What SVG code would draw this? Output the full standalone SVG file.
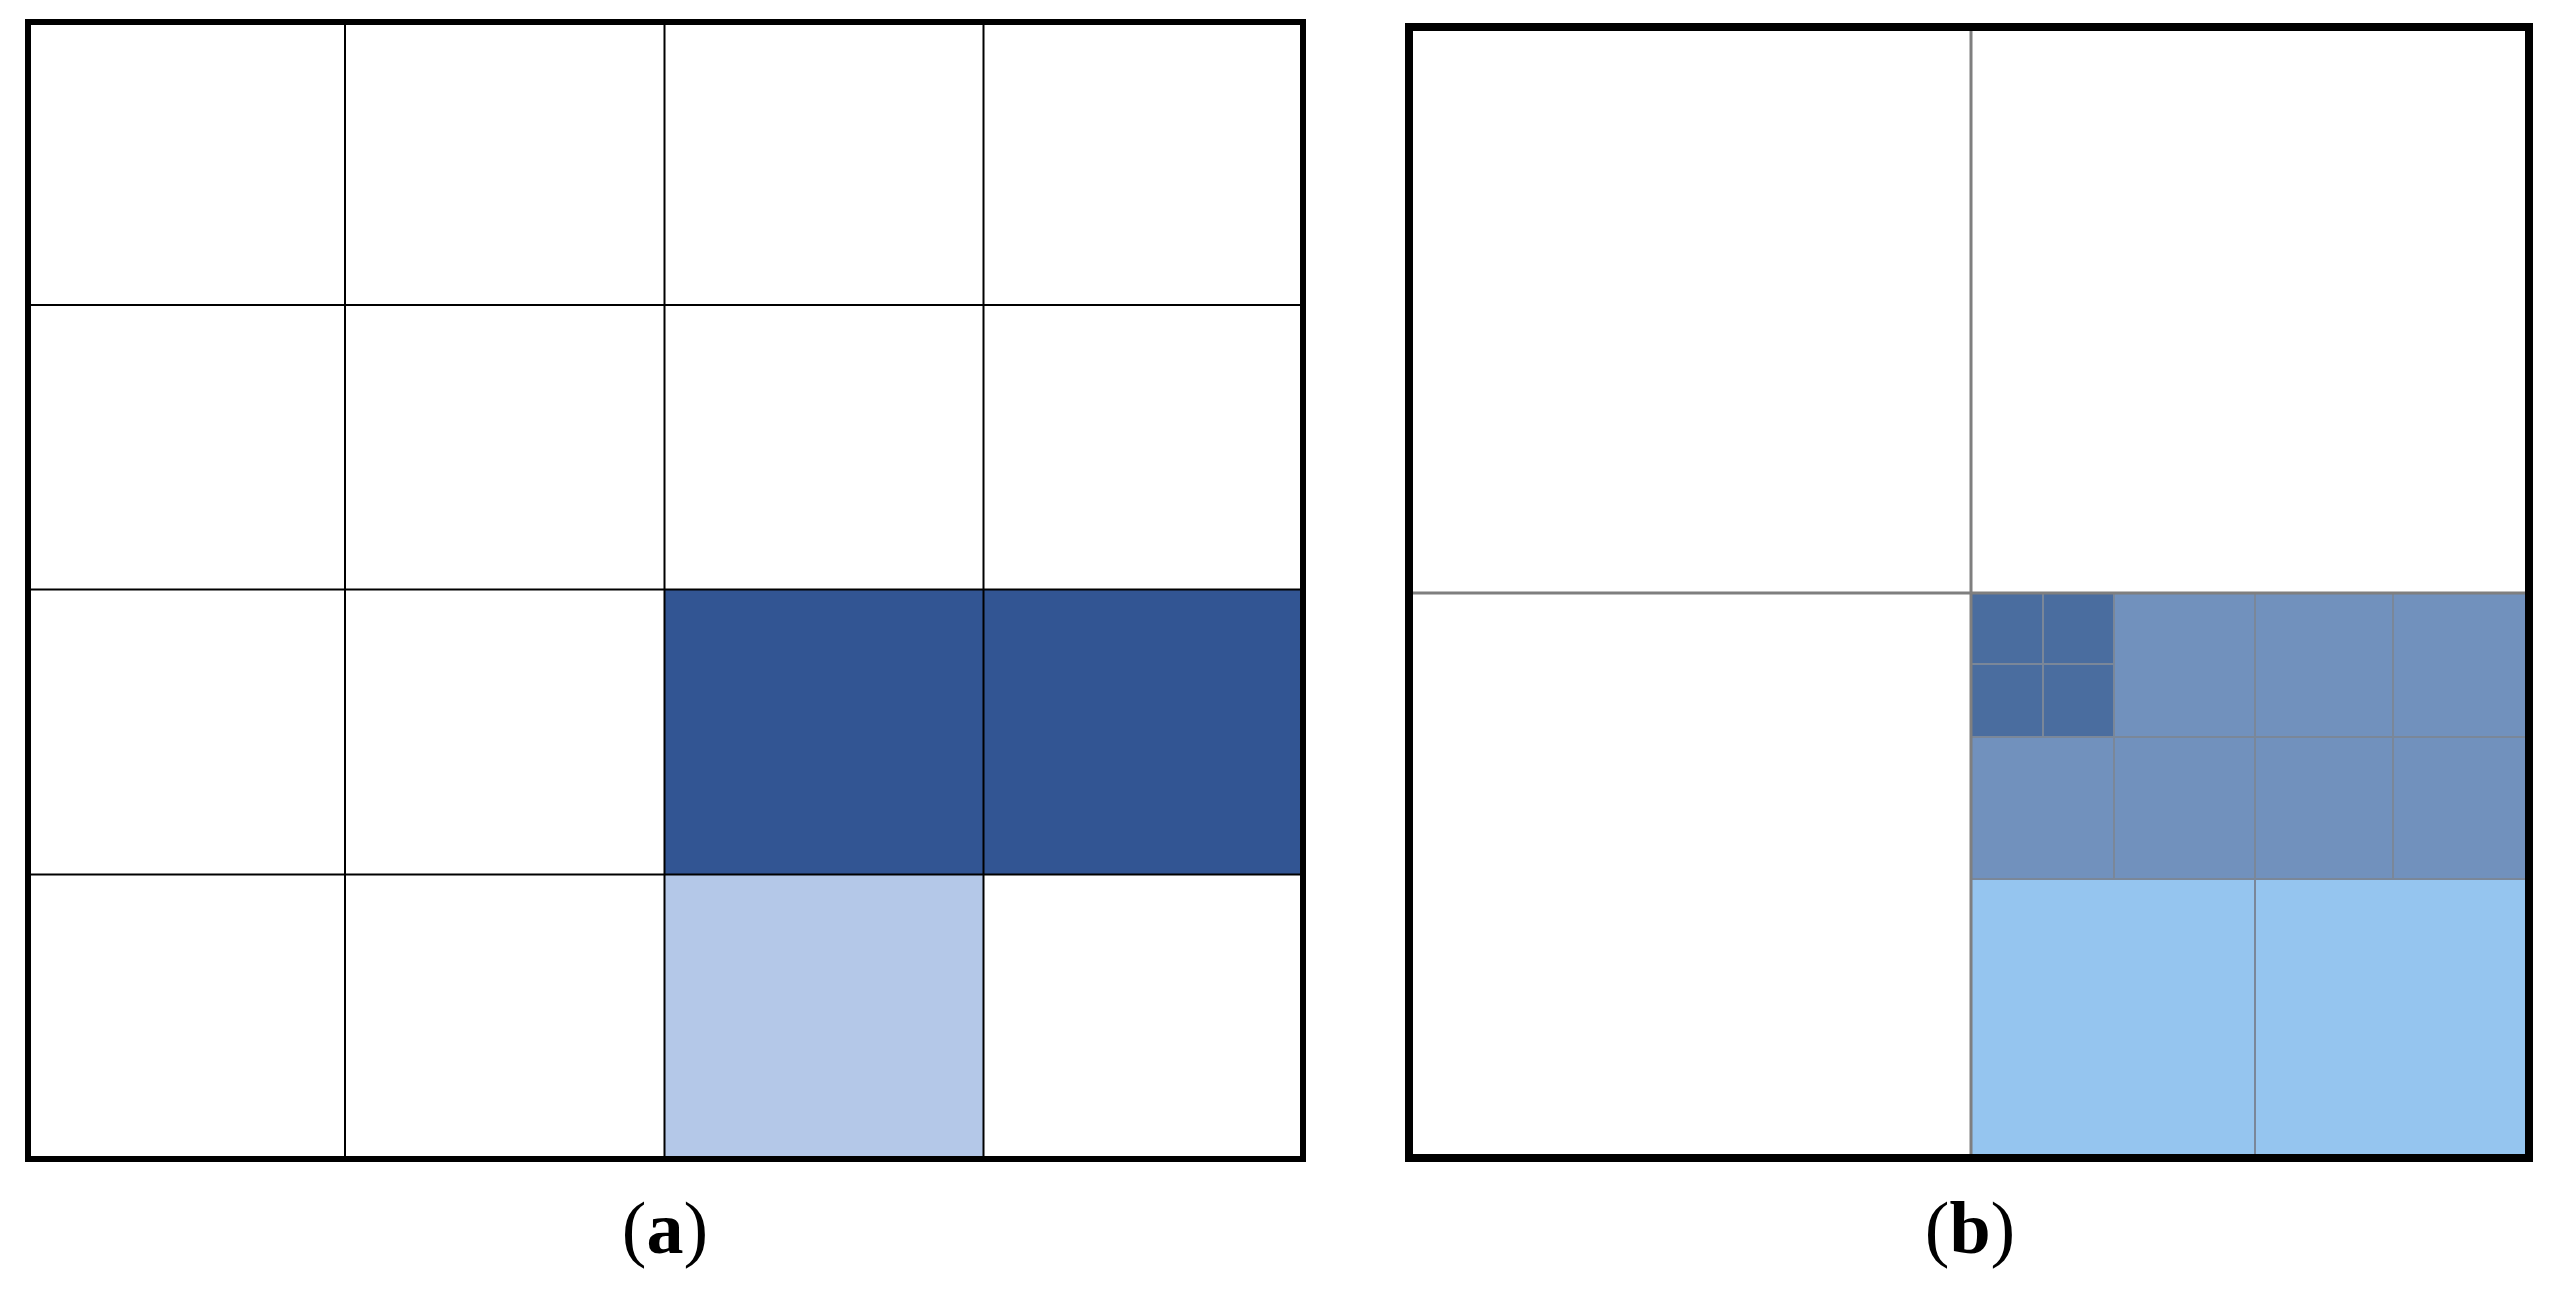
<svg xmlns="http://www.w3.org/2000/svg" width="2553" height="1292" viewBox="0 0 2553 1292">
<style>
.grid{stroke:#000;stroke-width:2;fill:none}
.g2{stroke:#7f7f7f;stroke-width:2;fill:none}
.g3{stroke:#7a8799;stroke-width:2;fill:none}
.lbl{font-family:"Liberation Serif",serif;font-size:74px;fill:#000}
</style>
<rect width="2553" height="1292" fill="#fff"/>
<g id="panel-a">
  <rect x="664.5" y="589.5" width="319.5" height="285" fill="#325593"/>
  <rect x="984" y="589.5" width="319" height="285" fill="#325593"/>
  <rect x="664.5" y="874.5" width="319.5" height="284.5" fill="#b4c8e8"/>
  <g class="grid">
    <line x1="345" y1="22" x2="345" y2="1159"/>
    <line x1="664.5" y1="22" x2="664.5" y2="1159"/>
    <line x1="983.5" y1="22" x2="983.5" y2="1159"/>
    <line x1="28" y1="305" x2="1303" y2="305"/>
    <line x1="28" y1="589.5" x2="1303" y2="589.5"/>
    <line x1="28" y1="874.5" x2="1303" y2="874.5"/>
  </g>
  <rect x="28" y="22" width="1275" height="1137" fill="none" stroke="#000" stroke-width="6"/>
</g>
<g id="panel-b">
  <rect x="1971" y="593" width="558" height="286" fill="#7191bd"/>
  <rect x="1971" y="593" width="143" height="144" fill="#4a6d9f"/>
  <rect x="1971" y="879" width="558" height="279" fill="#95c5ef"/>
  <g class="g3">
    <line x1="2043" y1="593" x2="2043" y2="737"/>
    <line x1="1971" y1="664" x2="2114" y2="664"/>
    <line x1="2114" y1="593" x2="2114" y2="879"/>
    <line x1="2255" y1="593" x2="2255" y2="1158"/>
    <line x1="2393" y1="593" x2="2393" y2="879"/>
    <line x1="1971" y1="737" x2="2529" y2="737"/>
    <line x1="1971" y1="879" x2="2529" y2="879"/>
  </g>
  <g class="g2">
    <line x1="1971" y1="27" x2="1971" y2="1158" stroke-width="3"/>
    <line x1="1409" y1="593" x2="2529" y2="593" stroke-width="3"/>
  </g>
  <rect x="1409" y="27" width="1120" height="1131" fill="none" stroke="#000" stroke-width="8"/>
</g>
<g id="labels">
  <text class="lbl" x="665" y="1253" text-anchor="middle">(<tspan font-weight="bold">a</tspan>)</text>
  <text class="lbl" x="1970" y="1253" text-anchor="middle">(<tspan font-weight="bold">b</tspan>)</text>
</g>
</svg>
